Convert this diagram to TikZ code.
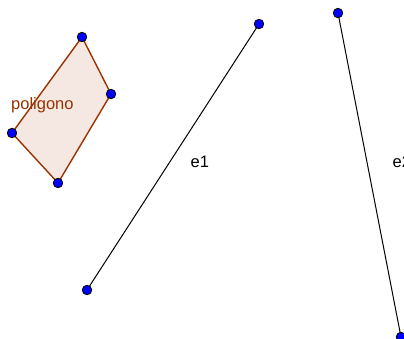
\documentclass[tikz,border=0pt]{standalone}
\usepackage{fontspec}
\setmainfont{Liberation Sans}
\definecolor{polybrown}{RGB}{153,51,0}
\definecolor{polyfill}{RGB}{245,231,225}
\definecolor{ptblue}{RGB}{0,0,255}
\tikzset{
  pt/.style={circle,fill=ptblue,draw=black,line width=0.8pt,inner sep=0pt,minimum size=9.5pt},
  seg/.style={draw=black,line width=1pt},
  lbl/.style={font=\fontsize{16.5}{19}\selectfont,inner sep=0pt,anchor=base west},
}
\begin{document}
\begin{tikzpicture}[x=1pt,y=-1pt]
\useasboundingbox (0,0) rectangle (404,338);
\clip (0,0) rectangle (404,338);
\fill[white] (0,0) rectangle (404,338);
% polygon
\coordinate (A) at (82,37);
\coordinate (B) at (111,94);
\coordinate (C) at (58,183);
\coordinate (D) at (12,133);
\filldraw[fill=polyfill,draw=polybrown,line width=1.4pt,line join=round] (A) -- (B) -- (C) -- (D) -- cycle;
\node[lbl,text=polybrown] (lpoly) at (11,109) {poligono};
% segment e1
\coordinate (E) at (87,290);
\coordinate (F) at (259,24);
\draw[seg] (E) -- (F);
\node[lbl] (le1) at (190.5,167.5) {e1};
% segment e2
\coordinate (G) at (338,13);
\coordinate (H) at (401,337);
\draw[seg] (G) -- (H);
\node[lbl] (le2) at (392.5,167.5) {e2};
% points
\foreach \p in {A,B,C,D,E,F,G,H} \node[pt] at (\p) {};
\end{tikzpicture}
\end{document}
